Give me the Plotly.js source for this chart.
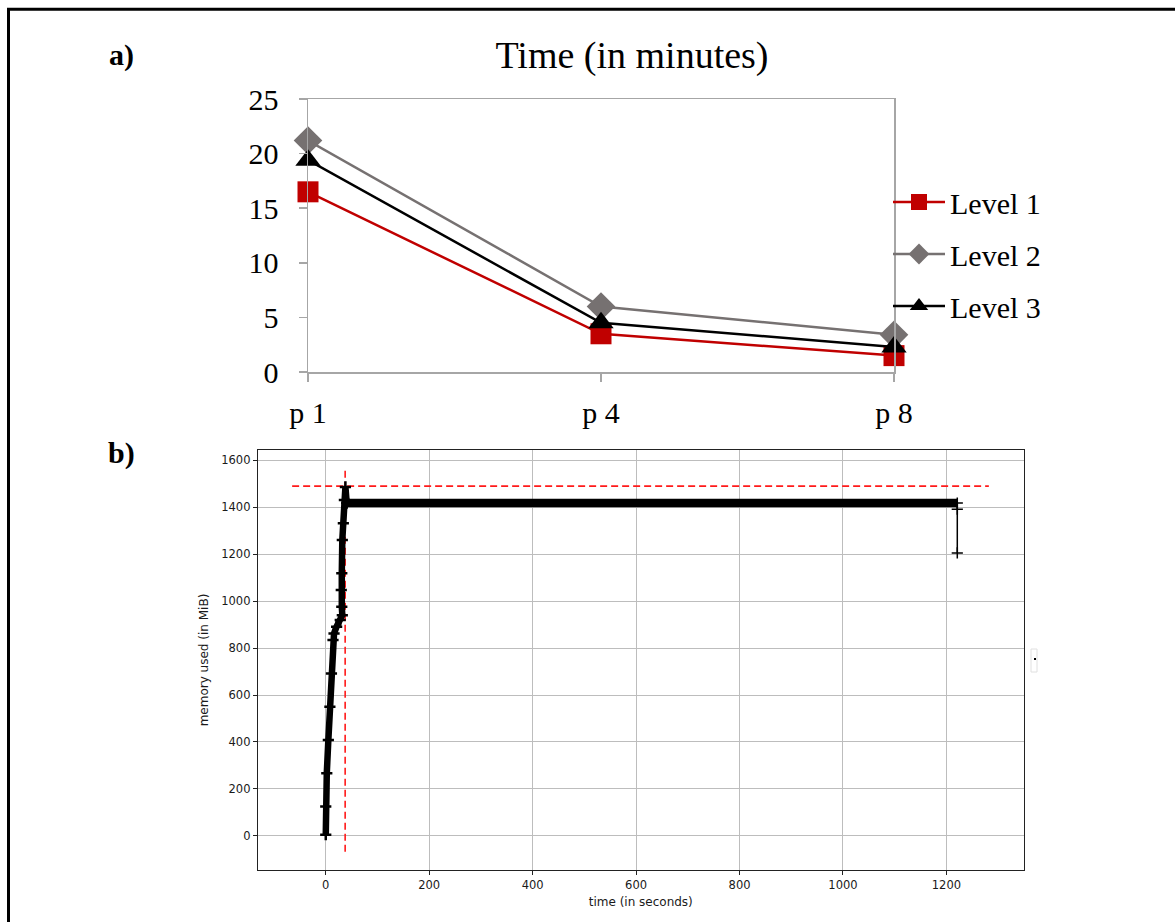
<!DOCTYPE html>
<html>
<head>
<meta charset="utf-8">
<script src="https://cdn.plot.ly/plotly-3.0.1.min.js"></script>
<style>html,body{margin:0;padding:0;background:#fff;}#chart{width:1175px;height:922px;}</style>
</head>
<body>
<div id="chart"></div>
<script>
// ---- panel a) data ----
const categories = ['p 1', 'p 4', 'p 8'];
const level1 = [16.5, 3.5, 1.5];
const level2 = [21.2, 6.0, 3.4];
const level3 = [19.4, 4.5, 2.3];
const aTicks = [0, 5, 10, 15, 20, 25];

// ---- panel b) data ----
const rampTime = [0, 0, 2, 5, 8, 11, 14, 16, 21, 28, 32, 31, 30, 31, 32, 34, 36, 38, 40.5];
const rampMem  = [5, 125, 267, 408, 550, 692, 834, 862, 891, 919, 940, 976, 1047, 1118, 1260, 1331, 1430, 1486, 1417];
const plateauTime = [40.5, 1222];
const plateauMem  = [1417, 1417];
const endTime = [1221, 1221, 1221];
const endMem  = [1417, 1391, 1205];
const maxHLineTime = [-65, 1282];
const maxHLineMem  = [1489, 1489];
const maxVLineTime = [37.5, 37.5];
const maxVLineMem  = [-67, 1565];
const bXTicks = [0, 200, 400, 600, 800, 1000, 1200];
const bYTicks = [0, 200, 400, 600, 800, 1000, 1200, 1400, 1600];

const W = 1175, H = 922;
const px = v => v / W;
const py = v => 1 - v / H;
const serif = 'Liberation Serif, Times New Roman, serif';
const sans = 'DejaVu Sans, sans-serif';
const gray = '#a6a6a6';

const traces = [
  {x: categories, y: level1, name: 'Level 1', legendgroup: 'g1', type: 'scatter', mode: 'lines+markers',
   line: {color: '#c00000', width: 2.5}, marker: {symbol: 'square', size: 21, color: '#c00000'},
   cliponaxis: false, xaxis: 'x', yaxis: 'y'},
  {x: categories, y: level2, name: 'Level 2', legendgroup: 'g2', type: 'scatter', mode: 'lines+markers',
   line: {color: '#767171', width: 2.5}, marker: {symbol: 'diamond', size: 22, color: '#767171'},
   cliponaxis: false, xaxis: 'x', yaxis: 'y'},
  {x: categories, y: level3, name: 'Level 3', legendgroup: 'g3', type: 'scatter', mode: 'lines+markers',
   line: {color: '#000000', width: 2.5}, marker: {symbol: 'triangle-up', size: 22, color: '#000000'},
   cliponaxis: false, xaxis: 'x', yaxis: 'y'},

  {x: maxHLineTime, y: maxHLineMem, type: 'scatter', mode: 'lines', showlegend: false,
   line: {color: '#ff1a1a', width: 1.6, dash: '7px,4px'}, xaxis: 'x2', yaxis: 'y2'},
  {x: maxVLineTime, y: maxVLineMem, type: 'scatter', mode: 'lines', showlegend: false,
   line: {color: '#ff1a1a', width: 1.6, dash: '7px,4px'}, xaxis: 'x2', yaxis: 'y2'},
  {x: rampTime, y: rampMem, type: 'scatter', mode: 'lines+markers', showlegend: false,
   line: {color: '#000', width: 6.5}, marker: {symbol: 'cross-thin', size: 8, line: {color: '#000', width: 2.5}},
   xaxis: 'x2', yaxis: 'y2'},
  {x: plateauTime, y: plateauMem, type: 'scatter', mode: 'lines', showlegend: false,
   line: {color: '#000', width: 8.5}, xaxis: 'x2', yaxis: 'y2'},
  {x: endTime, y: endMem, type: 'scatter', mode: 'lines+markers', showlegend: false,
   line: {color: '#000', width: 1.5}, marker: {symbol: 'cross-thin', size: 8, line: {color: '#000', width: 1.5}},
   xaxis: 'x2', yaxis: 'y2'}
];

const layout = {
  width: W, height: H,
  margin: {l: 0, r: 0, t: 0, b: 0},
  paper_bgcolor: '#fff', plot_bgcolor: '#fff',
  title: {text: 'Time (in minutes)', x: px(632), xanchor: 'center', y: py(55), yanchor: 'middle',
          font: {family: serif, size: 38, color: '#000'}},
  showlegend: true,
  legend: {x: px(888), xanchor: 'left', y: py(254), yanchor: 'middle', bgcolor: 'rgba(0,0,0,0)',
           font: {family: serif, size: 30, color: '#000'}, itemwidth: 52, tracegroupgap: 10},
  xaxis: {domain: [px(308), px(894)], anchor: 'y', type: 'category', range: [0, 2],
          showline: true, linecolor: gray, linewidth: 1.5, mirror: true,
          ticks: 'outside', ticklen: 8, tickcolor: gray, tickwidth: 1.5,
          showgrid: false, zeroline: false, ticklabelstandoff: 5,
          tickfont: {family: serif, size: 30, color: '#000'}},
  yaxis: {domain: [py(372), py(99)], anchor: 'x', range: [0, 25], tickvals: aTicks,
          showline: true, linecolor: gray, linewidth: 1.5, mirror: true,
          ticks: 'outside', ticklen: 8, tickcolor: gray, tickwidth: 1.5,
          showgrid: false, zeroline: false, ticklabelstandoff: 14,
          tickfont: {family: serif, size: 30, color: '#000'}},
  xaxis2: {domain: [px(258), px(1023.5)], anchor: 'y2', range: [-131, 1349], tickvals: bXTicks,
           showline: true, linecolor: '#222', linewidth: 1.2, mirror: true,
           ticks: 'outside', ticklen: 4, tickcolor: '#222', tickwidth: 1,
           showgrid: true, gridcolor: '#bdbdbd', gridwidth: 1, zeroline: false,
           tickfont: {family: sans, size: 11.5, color: '#1a1a1a'},
           title: {text: 'time (in seconds)', font: {family: sans, size: 12, color: '#1a1a1a'}, standoff: 6}},
  yaxis2: {domain: [py(870), py(450)], anchor: 'x2', range: [-145, 1643], tickvals: bYTicks,
           showline: true, linecolor: '#222', linewidth: 1.2, mirror: true,
           ticks: 'outside', ticklen: 4, tickcolor: '#222', tickwidth: 1,
           showgrid: true, gridcolor: '#bdbdbd', gridwidth: 1, zeroline: false,
           tickfont: {family: sans, size: 11.5, color: '#1a1a1a'},
           title: {text: 'memory used (in MiB)', font: {family: sans, size: 12, color: '#1a1a1a'}, standoff: 10}},
  annotations: [
    {text: '<b>a)</b>', xref: 'paper', yref: 'paper', x: px(107), y: py(55), xanchor: 'left', yanchor: 'middle',
     showarrow: false, font: {family: serif, size: 30, color: '#000'}},
    {text: '<b>b)</b>', xref: 'paper', yref: 'paper', x: px(106), y: py(453), xanchor: 'left', yanchor: 'middle',
     showarrow: false, font: {family: serif, size: 30, color: '#000'}}
  ],
  shapes: [
    {type: 'rect', xref: 'paper', yref: 'paper', x0: px(8.5), x1: 1.05, y0: -0.05, y1: py(9.2),
     line: {color: '#000', width: 3}, fillcolor: 'rgba(0,0,0,0)'},
    {type: 'rect', xref: 'paper', yref: 'paper', x0: px(1031), x1: px(1037), y0: py(672), y1: py(649),
     line: {color: '#e0e0e0', width: 1}, fillcolor: 'rgba(0,0,0,0)'},
    {type: 'rect', xref: 'paper', yref: 'paper', x0: px(1034), x1: px(1036), y0: py(660), y1: py(658),
     line: {width: 0}, fillcolor: '#000'}
  ]
};

Plotly.newPlot('chart', traces, layout, {displayModeBar: false, staticPlot: true});
</script>
</body>
</html>
